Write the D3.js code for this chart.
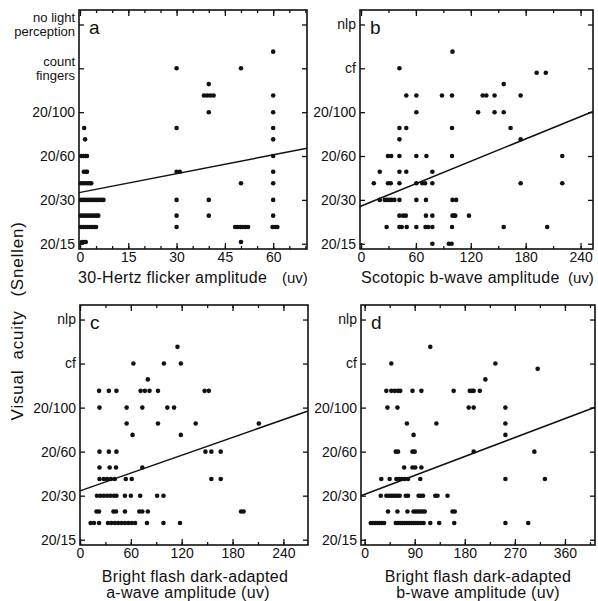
<!DOCTYPE html>
<meta charset="utf-8">
<head>
  <title>Visual acuity vs ERG amplitude</title>
  <style>body { margin: 0; background: #fff; }</style>
</head>
<body>
<script src="https://d3js.org/d3.v7.min.js"></script>
<div id="chart"></div>
<script>

// acuity is plotted on an even step scale: 0 = 20/15 ... 5 = no light perception
var acuityTicks = [0, 1, 2, 3, 4, 5];
var acuityLabelsLong = [["20/15"], ["20/30"], ["20/60"], ["20/100"], ["count", "fingers"], ["no light", "perception"]];
var acuityLabelsShort = [["20/15"], ["20/30"], ["20/60"], ["20/100"], ["cf"], ["nlp"]];

// each row: [acuity level, amplitudes (uv)...]
var flickerRows = [
  [4.38, 60],
  [4, 30, 50],
  [3.64, 40],
  [3.38, 38.5, 39.5, 40.5, 41.5, 60],
  [3, 40, 60],
  [2.64, 1.3, 30, 60],
  [2.38, 1.6, 60],
  [2, 0.4, 1.1, 1.8, 2.2, 60],
  [1.64, 1.2, 1.9, 2.2, 30, 31, 60],
  [1.38, 0.3, 1, 1.7, 2.4, 3.1, 3.5, 50, 60],
  [1, 0.3, 1, 1.7, 2.4, 3.1, 3.8, 4.5, 5.2, 5.9, 6.6, 7.3, 30, 40, 60],
  [0.64, 0.3, 1, 1.7, 2.4, 3.1, 3.8, 4.5, 5.2, 5.7, 30, 40, 60],
  [0.38, 0.3, 1, 1.7, 2.4, 3.1, 3.8, 4.5, 5, 30, 48.2, 49, 49.8, 50.6, 51.4, 52.2, 59.8, 60.6, 61.3],
  [0.04, 0.6, 1.3, 1.8, 50]
];

var scotopicRows = [
  [4.38, 100],
  [4, 42],
  [3.9, 192, 202],
  [3.64, 156],
  [3.38, 49.5, 60.5, 88.5, 99.5, 133, 137, 146, 174.5],
  [3, 60.5, 128, 146, 156],
  [2.64, 42, 49.5, 99.5, 163.5],
  [2.38, 42, 174.5],
  [2, 29.5, 33, 42, 60.5, 71.5, 99.5, 220],
  [1.64, 20.5, 42, 49.5, 78],
  [1.38, 14, 29.5, 32.5, 42, 60.5, 67, 70, 78, 174.5, 220],
  [1, 20.5, 26, 28.5, 31, 33.5, 36.5, 42, 60.5, 71, 100, 104],
  [0.64, 42, 46, 49, 71, 78, 100, 101.5, 103, 118],
  [0.38, 28, 42, 44.5, 50, 60.5, 70.5, 73.5, 78, 99.5, 156, 203.5],
  [0, 78, 96, 99]
];

var aWaveRows = [
  [4.38, 115],
  [4, 63, 99, 119],
  [3.64, 80],
  [3.38, 22.5, 34, 43, 71.5, 76.5, 82, 92, 147, 152],
  [3, 23, 55, 73.5, 103, 111],
  [2.64, 55, 92, 136.5, 211],
  [2.38, 62, 119],
  [2, 23, 34, 43, 148, 155, 166],
  [1.64, 23, 35, 42.5, 73.5],
  [1.38, 23, 28, 32, 36.5, 41, 54, 61, 155, 166],
  [1, 20, 24, 28, 32, 36, 40, 43, 53, 60, 71, 91, 98.5],
  [0.64, 19.5, 22.5, 39.5, 42.5, 53, 70, 73.5, 80, 190, 193],
  [0.38, 12.5, 16.5, 22.5, 33, 37, 41, 45, 49, 53, 57, 61, 65, 79, 98.5, 118]
];

var bWaveRows = [
  [4.38, 118],
  [4, 48, 235],
  [3.88, 311],
  [3.64, 217],
  [3.38, 39, 48, 54, 60, 64, 86, 102, 160, 189, 193, 196, 207],
  [3, 41, 59, 187, 196, 253],
  [2.64, 76, 129, 253],
  [2.38, 88, 253],
  [2, 56, 60, 86, 90, 196, 305],
  [1.64, 71, 86, 91, 102],
  [1.38, 30, 45, 57, 62, 67, 72, 78, 100, 253, 324],
  [1, 29, 39, 43, 47, 51, 55, 59, 63, 74, 78, 97, 101, 105, 127, 131, 149],
  [0.64, 42, 59, 77, 88, 92, 96, 100, 104, 108, 158, 162],
  [0.38, 11, 15, 19, 23, 27, 31, 35, 56, 60, 64, 68, 72, 76, 80, 84, 88, 92, 96, 101, 106, 118, 134, 161, 253, 294]
];

// x tick labels
var flickerTicks = [0, 15, 30, 45, 60];
var scotopicTicks = [0, 60, 120, 180, 240];
var aWaveTicks = [0, 60, 120, 180, 240];
var bWaveTicks = [0, 90, 180, 270, 360];

// fitted lines: [acuity at 0 uv, change per uv]
var flickerFit = [1.17, 0.0143];
var scotopicFit = [0.86, 0.0085];
var aWaveFit = [1.11, 0.00674];
var bWaveFit = [1.03, 0.00478];

var FONT = '"Liberation Sans", Arial, sans-serif';
var INK = '#111';

var svg = d3.select('#chart')
  .append('svg')
  .attr('width', 598)
  .attr('height', 601)
  .style('font-family', FONT);

function toPoints(rows) {
  var pts = [];
  rows.forEach(function(r) {
    r.slice(1).forEach(function(v) { pts.push([v, r[0]]); });
  });
  return pts;
}

function styleAxis(g) {
  g.select('.domain').remove();
  g.selectAll('line').attr('stroke', INK).attr('stroke-width', 1.3);
  g.attr('font-family', FONT).attr('font-size', 14);
  g.selectAll('text').attr('fill', INK);
}

function drawPanel(p) {
  var x = d3.scaleLinear().domain(p.xDomain).range([p.left, p.right]);
  var y = d3.scaleLinear().domain([-0.12, 5.33]).range([p.bottom, p.top]);
  var g = svg.append('g');

  var minor = d3.range(0, p.xDomain[1], p.minorStep);

  // bottom axis: labelled majors + minors, ticks point inward
  g.append('g').attr('transform', 'translate(0,' + p.bottom + ')')
    .call(d3.axisBottom(x).tickValues(minor).tickSize(-3).tickFormat(''))
    .call(styleAxis);
  g.append('g').attr('transform', 'translate(0,' + p.bottom + ')')
    .call(d3.axisBottom(x).tickValues(p.xTicks).tickSize(-6).tickPadding(3).tickFormat(d3.format('d')))
    .call(styleAxis);
  // top axis mirrors it
  g.append('g').attr('transform', 'translate(0,' + p.top + ')')
    .call(d3.axisTop(x).tickValues(minor).tickSize(-3).tickFormat(''))
    .call(styleAxis);
  g.append('g').attr('transform', 'translate(0,' + p.top + ')')
    .call(d3.axisTop(x).tickValues(p.xTicks).tickSize(-6).tickFormat(''))
    .call(styleAxis);
  // left / right
  g.append('g').attr('transform', 'translate(' + p.left + ',0)')
    .call(d3.axisLeft(y).tickValues(acuityTicks).tickSize(-5).tickFormat(''))
    .call(styleAxis);
  g.append('g').attr('transform', 'translate(' + p.right + ',0)')
    .call(d3.axisRight(y).tickValues(acuityTicks).tickSize(-5).tickFormat(''))
    .call(styleAxis);

  // y labels (may be two lines)
  acuityTicks.forEach(function(v, i) {
    var lines = p.yLabels[i];
    var fs = lines.length > 1 ? 13 : 14;
    var t = g.append('text')
      .attr('text-anchor', 'end')
      .attr('font-size', fs)
      .attr('fill', INK);
    lines.forEach(function(s, j) {
      t.append('tspan')
        .attr('x', p.left - 4)
        .attr('y', y(v) + (j - (lines.length - 1) / 2) * 14)
        .attr('dy', '0.35em')
        .text(s);
    });
  });

  // frame
  g.append('rect')
    .attr('x', p.left).attr('y', p.top)
    .attr('width', p.right - p.left).attr('height', p.bottom - p.top)
    .attr('fill', 'none').attr('stroke', INK).attr('stroke-width', 1.6);

  // fitted line
  var line = d3.line().x(function(d) { return x(d); }).y(function(d) { return y(p.fit[0] + p.fit[1] * d); });
  g.append('path')
    .datum(p.xDomain)
    .attr('d', line)
    .attr('fill', 'none').attr('stroke', INK).attr('stroke-width', 1.5);

  // points
  g.selectAll('circle.pt')
    .data(toPoints(p.rows))
    .enter()
    .append('circle')
    .attr('class', 'pt')
    .attr('cx', function(d) { return x(d[0]); })
    .attr('cy', function(d) { return y(d[1]); })
    .attr('r', 2.3)
    .attr('fill', INK);

  // panel letter
  g.append('text')
    .attr('x', p.left + 10).attr('y', p.top + 24)
    .attr('font-size', 19).attr('fill', INK)
    .text(p.letter);

  // x title
  p.title.forEach(function(t) {
    g.append('text')
      .attr('x', t[1]).attr('y', t[2])
      .attr('text-anchor', t[3])
      .attr('font-size', t[4] || 16)
      .attr('letter-spacing', t[4] ? 0 : 0.3)
      .attr('fill', INK)
      .text(t[0]);
  });
}

drawPanel({
  letter: 'a', rows: flickerRows, xTicks: flickerTicks, minorStep: 5, fit: flickerFit,
  xDomain: [-0.3, 70.5], left: 79, right: 307, top: 10, bottom: 249,
  yLabels: acuityLabelsLong,
  title: [['30-Hertz flicker amplitude', 78, 283, 'start'], ['(uv)', 282, 283, 'start', 15]]
});
drawPanel({
  letter: 'b', rows: scotopicRows, xTicks: scotopicTicks, minorStep: 30, fit: scotopicFit,
  xDomain: [-1.1, 253.6], left: 360, right: 593, top: 10, bottom: 249,
  yLabels: acuityLabelsShort,
  title: [['Scotopic b-wave amplitude', 361, 283, 'start'], ['(uv)', 568, 283, 'start', 15]]
});
drawPanel({
  letter: 'c', rows: aWaveRows, xTicks: aWaveTicks, minorStep: 30, fit: aWaveFit,
  xDomain: [0, 269], left: 80, right: 308, top: 305, bottom: 545,
  yLabels: acuityLabelsShort,
  title: [['Bright flash dark-adapted', 195, 582, 'middle'], ['a-wave amplitude  (uv)', 188, 598, 'middle']]
});
drawPanel({
  letter: 'd', rows: bWaveRows, xTicks: bWaveTicks, minorStep: 45, fit: bWaveFit,
  xDomain: [-6.5, 414], left: 361, right: 595, top: 305, bottom: 545,
  yLabels: acuityLabelsShort,
  title: [['Bright flash dark-adapted', 478, 582, 'middle'], ['b-wave amplitude  (uv)', 478, 598, 'middle']]
});

// shared y title, one word at a time to keep the wide spacing
[['Visual', 395], ['acuity', 335], ['(Snellen)', 259]].forEach(function(w) {
  svg.append('text')
    .attr('transform', 'translate(23,' + w[1] + ') rotate(-90)')
    .attr('text-anchor', 'middle')
    .attr('font-size', 17)
    .attr('letter-spacing', 0.8)
    .attr('fill', INK)
    .text(w[0]);
});

</script>
</body>
